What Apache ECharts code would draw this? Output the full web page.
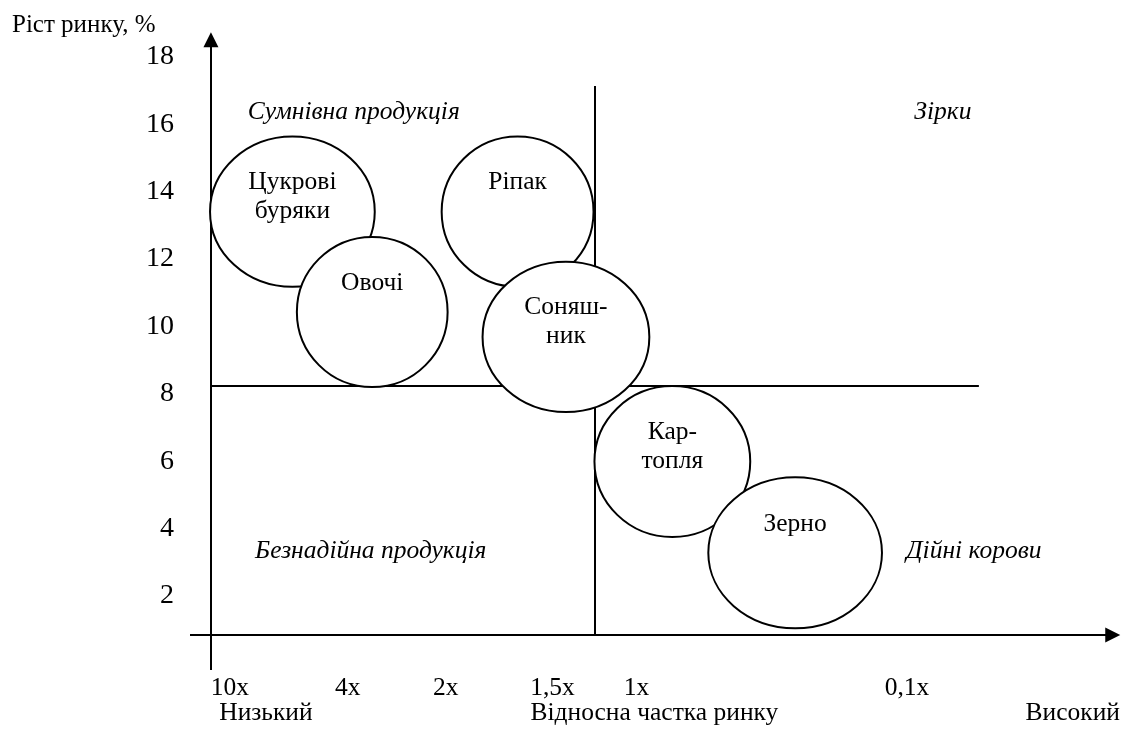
<!DOCTYPE html>
<html>
<head>
<meta charset="utf-8">
<script src="https://cdn.jsdelivr.net/npm/echarts@6/dist/echarts.min.js"></script>
<style>
  html, body { margin: 0; padding: 0; background: #fff; }
  #main { width: 1123px; height: 754px; }
</style>
</head>
<body>
<div id="main"></div>
<script>
const FONT = 'Liberation Serif';

// продукти: [x, y, піввісь по x, піввісь по y] у одиницях осей
const products = ['Цукрові\nбуряки', 'Овочі', 'Ріпак', 'Соняш-\nник', 'Кар-\nтопля', 'Зерно'];
const productX = [10.99, 19.56, 35.16, 40.35, 51.77, 64.95];
const productY = [13.41, 10.43, 13.41, 9.69, 5.99, 3.28];
const productRx = [8.84, 8.09, 8.15, 8.95, 8.36, 9.32];
const productRy = [2.23, 2.23, 2.23, 2.23, 2.24, 2.24];

// квадранти
const quadrants = ['Сумнівна продукція', 'Зірки', 'Безнадійна продукція', 'Дійні корови'];
const quadrantX = [17.58, 80.81, 19.4, 84.14];
const quadrantY = [16.37, 16.37, 3.33, 3.33];

// підписи осей
const shareTicks = [4.29, 16.93, 27.44, 38.91, 47.91, 76.95];
const shareLabels = ['10x', '4x', '2x', '1,5x', '1x', '0,1x'];
const shareNameTicks = [8.15, 49.84, 94.75];
const shareNames = ['Низький', 'Відносна частка ринку', 'Високий'];
const growthTicks = [2, 4, 6, 8, 10, 12, 14, 16, 18];

// осі та межі квадрантів
const axisLines = [
  [[2.25, -0.2], [2.25, 18.51]],
  [[0, 0.84], [99.04, 0.84]]
];
const splitLines = [
  [[43.41, 0.84], [43.41, 17.14]],
  [[2.25, 8.23], [84.67, 8.23]]
];

function pick(ticks, labels, v) {
  let best = 0;
  ticks.forEach((t, i) => { if (Math.abs(t - v) < Math.abs(ticks[best] - v)) best = i; });
  return labels[best];
}

const myChart = echarts.init(document.getElementById('main'));

const hiddenX = {
  type: 'value', min: 0, max: 100,
  axisLine: { show: false }, axisTick: { show: false }, splitLine: { show: false }
};

myChart.setOption({
  animation: false,
  title: {
    text: 'Ріст ринку, %',
    left: 7, top: 8,
    textStyle: { fontFamily: FONT, fontSize: 25, fontWeight: 'normal', color: '#000' }
  },
  grid: { left: 190, right: 0, top: 20, bottom: 84 },
  xAxis: [
    Object.assign({}, hiddenX, {
      axisLabel: {
        customValues: shareTicks, margin: 5,
        fontFamily: FONT, fontSize: 25.5, color: '#000',
        formatter: (v) => pick(shareTicks, shareLabels, v)
      }
    }),
    Object.assign({}, hiddenX, {
      position: 'bottom', offset: 25,
      axisLabel: {
        customValues: shareNameTicks, margin: 5,
        fontFamily: FONT, fontSize: 25.5, color: '#000',
        formatter: (v) => pick(shareNameTicks, shareNames, v)
      }
    })
  ],
  yAxis: {
    type: 'value', min: -0.2, max: 19.1,
    axisLine: { show: false }, axisTick: { show: false }, splitLine: { show: false },
    axisLabel: {
      customValues: growthTicks, margin: 16,
      fontFamily: FONT, fontSize: 28, color: '#000'
    }
  },
  series: [
    {
      type: 'lines',
      coordinateSystem: 'cartesian2d',
      silent: true, z: 1,
      symbol: ['none', 'triangle'],
      symbolSize: [16, 15],
      lineStyle: { color: '#000', width: 2, opacity: 1 },
      data: axisLines.map((c) => ({ coords: c }))
    },
    {
      type: 'lines',
      coordinateSystem: 'cartesian2d',
      silent: true, z: 1,
      symbol: 'none',
      lineStyle: { color: '#000', width: 2, opacity: 1 },
      data: splitLines.map((c) => ({ coords: c }))
    },
    {
      type: 'custom',
      silent: true, z: 3,
      data: products.map((name, i) => [productX[i], productY[i], productRx[i], productRy[i]]),
      renderItem: (params, api) => {
        const c = api.coord([api.value(0), api.value(1)]);
        const s = api.size([api.value(2), api.value(3)]);
        const name = products[params.dataIndex];
        const dy = name.indexOf('\n') >= 0 ? -15 : -29;
        return {
          type: 'group',
          children: [
            {
              type: 'ellipse',
              shape: { cx: c[0], cy: c[1], rx: s[0], ry: s[1] },
              style: { fill: '#fff', stroke: '#000', lineWidth: 2 }
            },
            {
              type: 'text',
              x: c[0], y: c[1] + dy,
              style: {
                text: name, fill: '#000',
                fontFamily: FONT, fontSize: 25.5, lineHeight: 29,
                align: 'center', verticalAlign: 'middle'
              }
            }
          ]
        };
      }
    },
    {
      type: 'custom',
      silent: true, z: 4,
      data: quadrants.map((name, i) => [quadrantX[i], quadrantY[i]]),
      renderItem: (params, api) => {
        const c = api.coord([api.value(0), api.value(1)]);
        return {
          type: 'text',
          x: c[0], y: c[1],
          style: {
            text: quadrants[params.dataIndex], fill: '#000',
            fontFamily: FONT, fontSize: 25.5, fontStyle: 'italic',
            align: 'center', verticalAlign: 'middle'
          }
        };
      }
    }
  ]
});

window.onresize = function () {
  myChart.resize();
};
</script>
</body>
</html>
